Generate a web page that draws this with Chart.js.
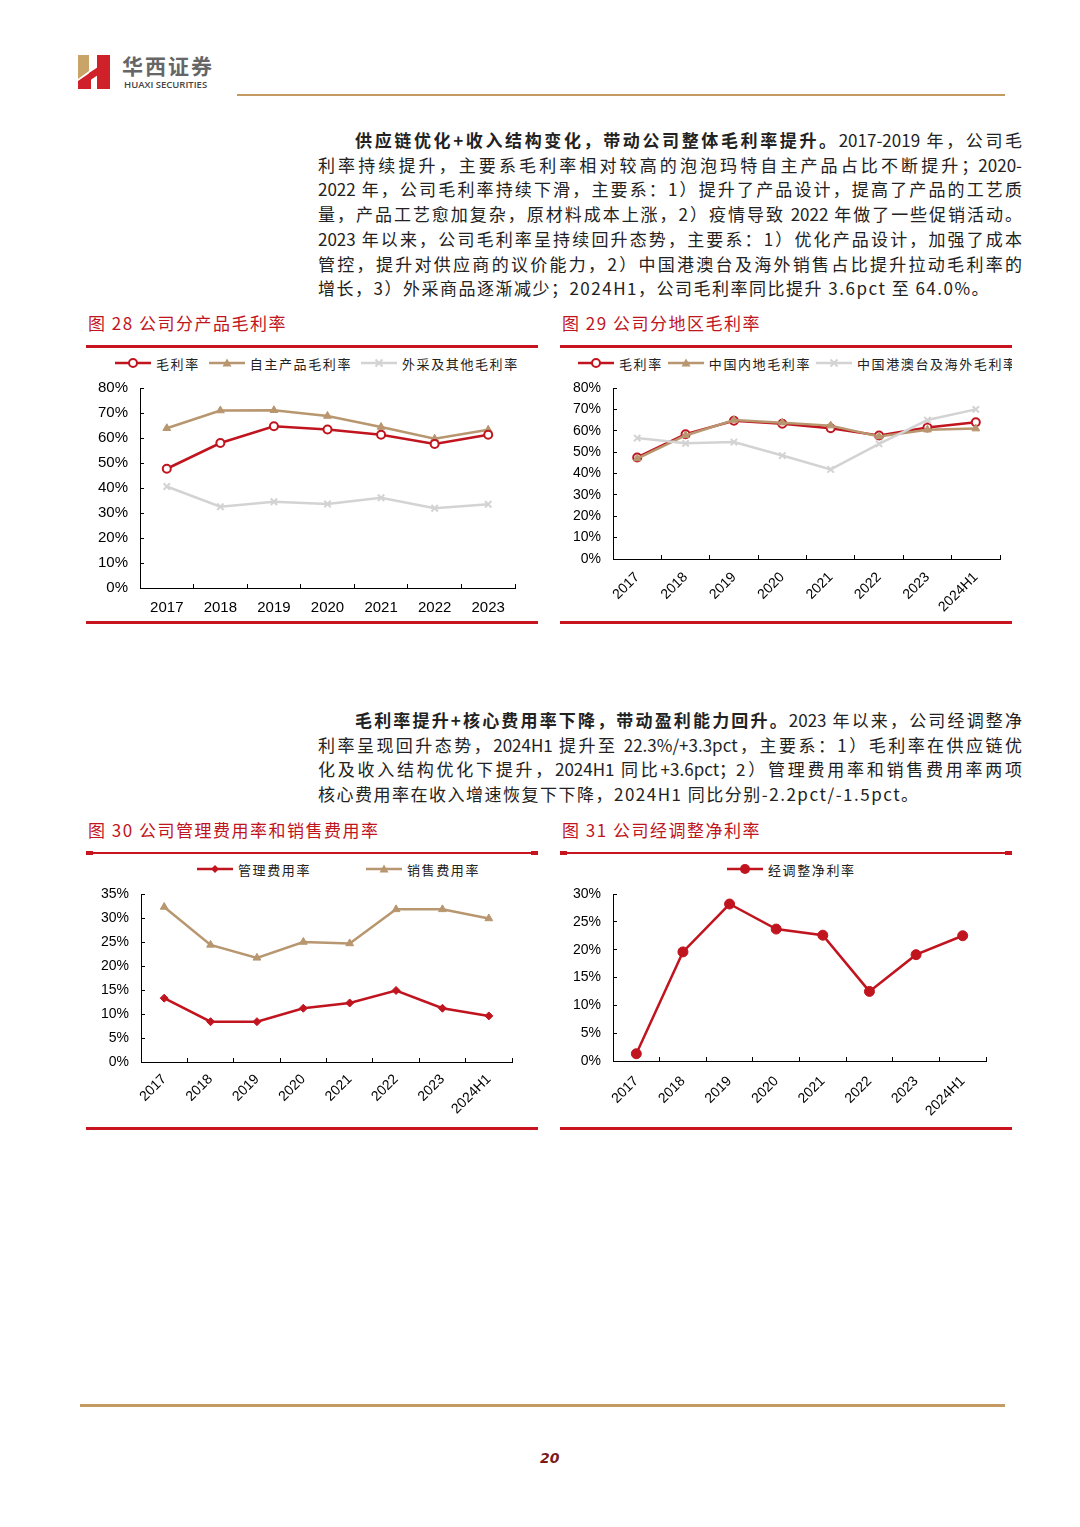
<!DOCTYPE html>
<html>
<head>
<meta charset="utf-8">
<script src="https://cdn.jsdelivr.net/npm/chart.js@4.4.0/dist/chart.umd.min.js"></script>
<style>
  html, body { margin: 0; padding: 0; background: #fff; }
  #page { position: relative; width: 1080px; height: 1527px; overflow: hidden; background: #fff;
          font-family: "Noto Sans CJK SC", sans-serif; color: #222; }
  .abs { position: absolute; }
  .rule-gold { position: absolute; background: #c39a62; }
  .rule-red { position: absolute; background: #c8141e; }
  .para { position: absolute; left: 318px; width: 704px; font-size: 17px; line-height: 24.7px; }
  .para div { text-align: justify; text-align-last: justify; white-space: nowrap; }
  .para div.last { text-align-last: left; letter-spacing: 1.5px; }
  .para div.first { padding-left: 37px; }
  .para b { font-weight: 700; }
  .ftitle { position: absolute; font-size: 17px; line-height: 24px; color: #c0141e; letter-spacing: 1.5px; }
  .legend { position: absolute; height: 18px; display: flex; align-items: center; white-space: nowrap; overflow: hidden;
            font-size: 13px; letter-spacing: 1.6px; color: #222; }
  .legend .item { display: flex; align-items: center; flex: none; }
  .legend svg { flex: none; margin-right: 5px; }
  canvas { position: absolute; }
</style>
</head>
<body>
<div id="page">
  <!-- header -->
  <svg class="abs" style="left:76px;top:53px" width="36" height="38" viewBox="0 0 36 38">
    <polygon points="2,2 13,2 13,18 2,26" fill="#c9a468"/>
    <polygon points="2,28 15,19 15,36 2,36" fill="#d0202a"/>
    <polygon points="13,20 22,14 22,22 13,28" fill="#d0202a"/>
    <polygon points="21,2 34,2 34,36 21,36" fill="#d0202a"/>
  </svg>
  <div class="abs" style="left:122px;top:50px;font-size:21px;font-weight:700;color:#666;letter-spacing:2px;">华西证券</div>
  <div class="abs" style="left:124px;top:78px;font-family:'Open Sans',sans-serif;font-size:9.5px;font-weight:600;color:#444;">HUAXI SECURITIES</div>
  <div class="rule-gold" style="left:237px;top:94px;width:768px;height:2px;"></div>

  <div class="para" style="top:128px;">
    <div class="first"><b>供应链优化+收入结构变化，带动公司整体毛利率提升。</b>2017-2019 年，公司毛</div>
    <div>利率持续提升，主要系毛利率相对较高的泡泡玛特自主产品占比不断提升；2020-</div>
    <div>2022 年，公司毛利率持续下滑，主要系：1）提升了产品设计，提高了产品的工艺质</div>
    <div>量，产品工艺愈加复杂，原材料成本上涨，2）疫情导致 2022 年做了一些促销活动。</div>
    <div>2023 年以来，公司毛利率呈持续回升态势，主要系：1）优化产品设计，加强了成本</div>
    <div>管控，提升对供应商的议价能力，2）中国港澳台及海外销售占比提升拉动毛利率的</div>
    <div class="last">增长，3）外采商品逐渐减少；2024H1，公司毛利率同比提升 3.6pct 至 64.0%。</div>
  </div>

  <div class="ftitle" style="left:88px;top:311px;">图 28 公司分产品毛利率</div>
  <div class="ftitle" style="left:562px;top:311px;">图 29 公司分地区毛利率</div>
  <div class="rule-red" style="left:86px;top:345px;width:452px;height:3px;"></div>
  <div class="rule-red" style="left:560px;top:345px;width:452px;height:3px;"></div>
  <div class="rule-red" style="left:86px;top:621px;width:452px;height:3px;"></div>
  <div class="rule-red" style="left:560px;top:621px;width:452px;height:3px;"></div>

  <div class="legend" id="lg1" style="left:115px;top:354px;width:420px;"></div>
  <div class="legend" id="lg2" style="left:578px;top:354px;width:434px;"></div>
  <canvas id="c1" width="452" height="242" style="left:86px;top:378px;"></canvas>
  <canvas id="c2" width="452" height="242" style="left:560px;top:378px;"></canvas>

  <div class="para" style="top:708px;">
    <div class="first"><b>毛利率提升+核心费用率下降，带动盈利能力回升。</b>2023 年以来，公司经调整净</div>
    <div>利率呈现回升态势，2024H1 提升至 22.3%/+3.3pct，主要系：1）毛利率在供应链优</div>
    <div>化及收入结构优化下提升，2024H1 同比+3.6pct；2）管理费用率和销售费用率两项</div>
    <div class="last">核心费用率在收入增速恢复下下降，2024H1 同比分别-2.2pct/-1.5pct。</div>
  </div>

  <div class="ftitle" style="left:88px;top:818px;">图 30 公司管理费用率和销售费用率</div>
  <div class="ftitle" style="left:562px;top:818px;">图 31 公司经调整净利率</div>
  <div class="rule-red" style="left:86px;top:852px;width:452px;height:2px;"></div>
  <div class="rule-red" style="left:86px;top:851px;width:7px;height:4px;"></div>
  <div class="rule-red" style="left:531px;top:851px;width:7px;height:4px;"></div>
  <div class="rule-red" style="left:560px;top:852px;width:452px;height:2px;"></div>
  <div class="rule-red" style="left:560px;top:851px;width:7px;height:4px;"></div>
  <div class="rule-red" style="left:1005px;top:851px;width:7px;height:4px;"></div>
  <div class="rule-red" style="left:86px;top:1127px;width:452px;height:3px;"></div>
  <div class="rule-red" style="left:560px;top:1127px;width:452px;height:3px;"></div>

  <div class="legend" id="lg3" style="left:197px;top:860px;width:320px;"></div>
  <div class="legend" id="lg4" style="left:727px;top:860px;width:200px;"></div>
  <canvas id="c3" width="452" height="242" style="left:86px;top:884px;"></canvas>
  <canvas id="c4" width="452" height="242" style="left:560px;top:884px;"></canvas>

  <div class="rule-gold" style="left:80px;top:1404px;width:925px;height:3px;"></div>
  <div class="abs" style="left:540px;top:1450px;font-family:'DejaVu Sans',sans-serif;font-size:14px;font-weight:700;font-style:italic;color:#7a1c1c;">20</div>
</div>

<script>
// ---- data ----
const years7 = ['2017', '2018', '2019', '2020', '2021', '2022', '2023'];
const years8 = ['2017', '2018', '2019', '2020', '2021', '2022', '2023', '2024H1'];

// Fig 28: gross margin by product (%)
const grossMargin = [47.7, 58.0, 64.7, 63.4, 61.3, 57.6, 61.3];
const ownProductMargin = [63.9, 71.0, 71.1, 68.8, 64.4, 59.7, 63.3];
const outsourcedMargin = [40.6, 32.5, 34.5, 33.6, 36.1, 31.9, 33.5];

// Fig 29: gross margin by region (%)
const grossMarginRegion = [47.5, 58.4, 64.7, 63.3, 61.2, 57.8, 61.5, 64.0];
const mainlandMargin = [47.0, 57.8, 65.0, 63.8, 62.4, 57.3, 60.5, 61.0];
const overseasMargin = [56.6, 54.1, 54.7, 48.4, 41.9, 53.9, 65.0, 70.0];

// Fig 30: admin / selling expense ratio (%)
const adminRate = [13.3, 8.4, 8.4, 11.2, 12.3, 14.9, 11.2, 9.6];
const salesRate = [32.3, 24.4, 21.7, 25.0, 24.7, 31.8, 31.8, 29.9];

// Fig 31: adjusted net margin (%)
const adjNetMargin = [1.3, 19.6, 28.2, 23.7, 22.6, 12.5, 19.1, 22.5];

const RED = '#c0141f', TAN = '#b8966f', GRAY = '#d3d3d3';

Chart.defaults.font.family = '"Liberation Sans", Arial, sans-serif';
Chart.defaults.color = '#000';

// marker styles shared by the chart and the html legend
const styles = {
  openCircle: { pointStyle: 'circle', pointRadius: 4, pointBorderWidth: 2, pointBackgroundColor: '#fff', color: RED },
  triangle: { pointStyle: 'triangle', pointRadius: 4.5, pointBorderWidth: 1, pointBackgroundColor: TAN, color: TAN },
  cross: { pointStyle: 'crossRot', pointRadius: 4.5, pointBorderWidth: 2, pointBackgroundColor: GRAY, color: GRAY },
  diamond: { pointStyle: 'rectRot', pointRadius: 4, pointBorderWidth: 1, pointBackgroundColor: RED, color: RED },
  dot: { pointStyle: 'circle', pointRadius: 5, pointBorderWidth: 1, pointBackgroundColor: RED, color: RED }
};

function series(label, data, st, order) {
  const s = styles[st];
  return {
    label: label, data: data, order: order || 0, _st: st,
    borderColor: s.color, backgroundColor: s.color, borderWidth: 2.5,
    pointStyle: s.pointStyle, pointRadius: s.pointRadius, pointBorderWidth: s.pointBorderWidth,
    pointBorderColor: s.color, pointBackgroundColor: s.pointBackgroundColor,
    tension: 0
  };
}

function markerSvg(st) {
  const s = styles[st], c = s.color;
  let m = '';
  if (st === 'openCircle') m = `<circle cx="18" cy="6" r="4" fill="#fff" stroke="${c}" stroke-width="2"/>`;
  else if (st === 'dot') m = `<circle cx="18" cy="6" r="5" fill="${c}"/>`;
  else if (st === 'triangle') m = `<polygon points="18,1.5 22.5,9.5 13.5,9.5" fill="${c}"/>`;
  else if (st === 'diamond') m = `<polygon points="18,2 22,6 18,10 14,6" fill="${c}"/>`;
  else if (st === 'cross') m = `<path d="M14.5 2.5 L21.5 9.5 M21.5 2.5 L14.5 9.5" stroke="${c}" stroke-width="2"/>`;
  return `<svg width="36" height="12" viewBox="0 0 36 12"><line x1="0" y1="6" x2="36" y2="6" stroke="${c}" stroke-width="2.5"/>${m}</svg>`;
}

function buildLegend(id, datasets, gap) {
  const el = document.getElementById(id);
  el.innerHTML = datasets.map((d, i) =>
    `<div class="item" style="margin-right:${i < datasets.length - 1 ? gap : 0}px">${markerSvg(d._st)}<span>${d.label}</span></div>`
  ).join('');
}

function makeChart(id, labels, datasets, o) {
  return new Chart(document.getElementById(id), {
    type: 'line',
    data: { labels: labels, datasets: datasets },
    options: {
      responsive: false,
      animation: false,
      layout: { padding: { top: o.top, right: o.right, left: 0, bottom: 0 } },
      plugins: { legend: { display: false }, tooltip: { enabled: false } },
      scales: {
        x: {
          offset: true,
          grid: { offset: true, drawOnChartArea: false, drawTicks: true, tickLength: -4, color: '#000', lineWidth: 1 },
          border: { color: '#000', width: 1 },
          ticks: { font: { size: o.xFont }, padding: o.xPad, minRotation: o.rot, maxRotation: o.rot, autoSkip: false },
          afterFit(s) { s.height = o.xH; }
        },
        y: {
          min: 0, max: o.max,
          grid: { drawOnChartArea: false, drawTicks: true, tickLength: -4, color: '#000', lineWidth: 1 },
          border: { color: '#000', width: 1 },
          ticks: { stepSize: o.step, autoSkip: false, font: { size: o.yFont }, padding: 16, callback: v => v + '%' },
          afterFit(s) { s.width = o.yW; s.paddingTop = 0; s.paddingBottom = 0; }
        }
      }
    }
  });
}

// Fig 28
const ds1 = [
  series('毛利率', grossMargin, 'openCircle', 1),
  series('自主产品毛利率', ownProductMargin, 'triangle', 2),
  series('外采及其他毛利率', outsourcedMargin, 'cross', 3)
];
buildLegend('lg1', ds1, 9);
makeChart('c1', years7, ds1, { top: 10, right: 23, yW: 54, xH: 32, max: 80, step: 10, rot: 0, xPad: 15, xFont: 15, yFont: 15 });

// Fig 29
const ds2 = [
  series('毛利率', grossMarginRegion, 'openCircle', 3),
  series('中国内地毛利率', mainlandMargin, 'triangle', 2),
  series('中国港澳台及海外毛利率', overseasMargin, 'cross', 1)
];
buildLegend('lg2', ds2, 5);
makeChart('c2', years8, ds2, { top: 10, right: 12, yW: 53, xH: 61, max: 80, step: 10, rot: 45, xPad: 14, xFont: 14, yFont: 14 });

// Fig 30
const ds3 = [
  series('管理费用率', adminRate, 'diamond', 1),
  series('销售费用率', salesRate, 'triangle', 2)
];
buildLegend('lg3', ds3, 55);
makeChart('c3', years8, ds3, { top: 10, right: 26, yW: 55, xH: 64, max: 35, step: 5, rot: 45, xPad: 13, xFont: 14, yFont: 14 });

// Fig 31
const ds4 = [series('经调整净利率', adjNetMargin, 'dot', 1)];
buildLegend('lg4', ds4, 0);
makeChart('c4', years8, ds4, { top: 10, right: 26, yW: 53, xH: 65, max: 30, step: 5, rot: 45, xPad: 16, xFont: 14, yFont: 14 });
</script>
</body>
</html>
